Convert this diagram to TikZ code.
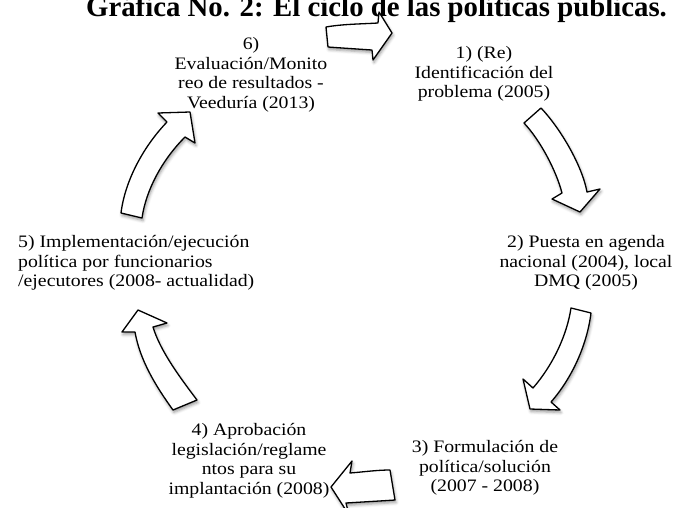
\documentclass[tikz,border=0pt]{standalone}
\usepackage{fontspec}
\setmainfont[FakeStretch=1.13]{Liberation Serif}
\newfontfamily\titlefont{Liberation Serif}
\usetikzlibrary{shadows.blur}
\begin{document}
\begin{tikzpicture}[x=1pt,y=-1pt,
  blockarrow/.style={draw=black, line width=1.3pt, line join=round, fill=white,
    blur shadow={shadow xshift=1pt, shadow yshift=-2.5pt, shadow blur radius=3pt, shadow opacity=40}},
  lbl/.style={font=\fontsize{17.5}{19.5}\selectfont, align=center, inner sep=0pt}]
\useasboundingbox (0,0) rectangle (675,507);

\node[anchor=base, font=\titlefont\bfseries\fontsize{28.8}{30}\selectfont] (title) at (376.5,16) {Gráfica No. 2: El ciclo de las políticas públicas.};

% labels
\node[lbl] (n6) at (251,75) {6)\\Evaluación/Monito\\reo de resultados -\\Veeduría (2013)};
\node[lbl] (n1) at (484,74) {1) (Re)\\Identificación del\\problema (2005)};
\node[lbl] (n2) at (586,263) {2) Puesta en agenda\\nacional (2004), local\\DMQ (2005)};
\node[lbl] (n3) at (485,468) {3) Formulación de\\política/solución\\(2007 - 2008)};
\node[lbl] (n4) at (249,461) {4) Aprobación\\legislación/reglame\\ntos para su\\implantación (2008)};
\node[lbl, align=left, anchor=west] (n5) at (18,263) {5) Implementación/ejecución\\política por funcionarios\\/ejecutores (2008- actualidad)};

% arrows
\draw[blockarrow] (326,27) .. controls (343,24) and (362,24) .. (378,23) -- (379,12) -- (392,33) -- (373,60) -- (372,50) .. controls (357,49) and (342,48) .. (328,47) -- cycle;
\draw[blockarrow] (541,108) .. controls (560,128) and (582,165) .. (587,192) -- (600,189) -- (580,212) -- (552,199) -- (562,193) .. controls (556,170) and (540,140) .. (524,123) -- cycle;
\draw[blockarrow] (591,313) .. controls (587,345) and (572,378) .. (551,402) -- (560,410) -- (530,409) -- (523,379) -- (533,388) .. controls (553,365) and (567,335) .. (571,308) -- cycle;
\draw[blockarrow] (390,470) .. controls (377,470) and (363,472) .. (350,473) -- (352,461) -- (331,487) -- (349,515) -- (346,503) .. controls (362,502) and (380,501) .. (395,500) -- cycle;
\draw[blockarrow] (173,410) .. controls (155,385) and (140,360) .. (135,332) -- (122,332) -- (138,310) -- (167,323) -- (153,327) .. controls (160,350) and (178,375) .. (197,400) -- cycle;
\draw[blockarrow] (142,218) .. controls (146,190) and (162,160) .. (185,137) -- (195,143) -- (190,112) -- (158,113) -- (167,122) .. controls (143,147) and (125,181) .. (121,213) -- cycle;
\end{tikzpicture}
\end{document}
